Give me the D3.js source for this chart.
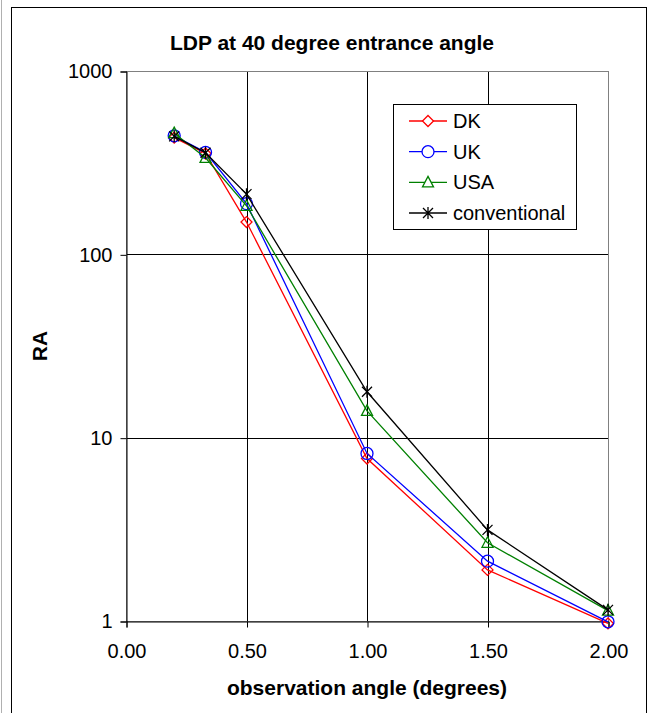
<!DOCTYPE html>
<html>
<head>
<meta charset="utf-8">
<script src="https://cdn.jsdelivr.net/npm/d3@7"></script>
<style>
  body { margin: 0; background: #fff; }
  svg { display: block; font-family: Arial, "Liberation Sans", sans-serif; }
</style>
</head>
<body>
<svg id="chart" width="658" height="713"></svg>
<script>
// observation angle (degrees)
let angles = [0.2, 0.33, 0.5, 1.0, 1.5, 2.0];

let dkValues = [433, 355, 150, 7.7, 1.9, 0.97];
let ukValues = [443, 360, 189, 8.2, 2.12, 0.99];
let usaValues = [458, 336, 184, 14.0, 2.67, 1.14];
let conventionalValues = [440, 358, 213, 17.8, 3.14, 1.15];

let seriesNames = ['DK', 'UK', 'USA', 'conventional'];
let xTicks = [0, 0.5, 1, 1.5, 2];
let yTicks = [1, 10, 100, 1000];

let series = [
	{name: seriesNames[0], values: dkValues, color: '#ff0000', marker: 'diamond'},
	{name: seriesNames[1], values: ukValues, color: '#0000ff', marker: 'circle'},
	{name: seriesNames[2], values: usaValues, color: '#008000', marker: 'triangle'},
	{name: seriesNames[3], values: conventionalValues, color: '#000000', marker: 'star'}
];

let svg = d3.select('#chart');

// outer chart frame
svg.append('line')
	.attr('x1', 1.5).attr('x2', 1.5).attr('y1', 0).attr('y2', 713)
	.attr('stroke', '#b0b0b0');
svg.append('rect')
	.attr('x', 11.5).attr('y', 7.5)
	.attr('width', 635).attr('height', 720)
	.attr('fill', 'none').attr('stroke', '#000');

let plot = {left: 126, right: 608, top: 71, bottom: 621};

let x = d3.scaleLinear()
	.domain([0, 2])
	.range([plot.left, plot.right]);

let y = d3.scaleLog()
	.domain([1, 1000])
	.range([plot.bottom, plot.top]);

// gridlines
let grid = svg.append('g');
grid.selectAll('.vgrid')
	.data(xTicks.slice(1, -1))
	.join('line')
	.attr('x1', d => Math.round(x(d)) + 0.5)
	.attr('x2', d => Math.round(x(d)) + 0.5)
	.attr('y1', plot.top).attr('y2', plot.bottom)
	.attr('stroke', '#000');
grid.selectAll('.hgrid')
	.data(yTicks.slice(1, -1))
	.join('line')
	.attr('x1', plot.left).attr('x2', plot.right)
	.attr('y1', d => Math.round(y(d)) + 0.5)
	.attr('y2', d => Math.round(y(d)) + 0.5)
	.attr('stroke', '#000');

// plot area border (grey)
svg.append('rect')
	.attr('x', plot.left + 0.5).attr('y', plot.top + 0.5)
	.attr('width', plot.right - plot.left).attr('height', plot.bottom - plot.top)
	.attr('fill', 'none').attr('stroke', '#808080');

// axes
let xAxis = d3.axisBottom(x)
	.tickValues(xTicks)
	.tickFormat(d3.format('.2f'))
	.tickSize(6)
	.tickPadding(16);

let yAxis = d3.axisLeft(y)
	.tickValues(yTicks)
	.tickFormat(d3.format('d'))
	.tickSize(6)
	.tickPadding(8);

let gx = svg.append('g')
	.attr('transform', `translate(0.5,${plot.bottom + 0.5})`)
	.call(xAxis);
let gy = svg.append('g')
	.attr('transform', `translate(${plot.left + 0.5},0.5)`)
	.call(yAxis);

[gx, gy].forEach(g => {
	g.selectAll('path, line').attr('stroke', '#000');
	g.selectAll('text')
		.attr('fill', '#000')
		.style('font-size', '20px')
		.style('font-family', 'Arial, "Liberation Sans", sans-serif');
});

// series
function markerPath(type) {
	if(type === 'diamond') return 'M0,-5.5L5.5,0L0,5.5L-5.5,0Z';
	if(type === 'circle') return d3.symbol(d3.symbolCircle, 113)();
	if(type === 'triangle') return 'M0,-6L5.5,4.5L-5.5,4.5Z';
	return 'M-5,-5L5,5M-5,5L5,-5M0,-6L0,6';
}

let line = d3.line()
	.x(d => x(d[0]))
	.y(d => y(d[1]));

series.forEach(s => {
	let pts = angles.map((a, i) => [a, s.values[i]]);
	svg.append('path')
		.datum(pts)
		.attr('d', line)
		.attr('fill', 'none')
		.attr('stroke', s.color)
		.attr('stroke-width', 1.3);
	svg.append('g')
		.selectAll('path')
		.data(pts)
		.join('path')
		.attr('transform', d => `translate(${x(d[0])},${y(d[1])})`)
		.attr('d', markerPath(s.marker))
		.attr('fill', 'none')
		.attr('stroke', s.color)
		.attr('stroke-width', 1.3);
});

// legend
let legend = svg.append('g');
legend.append('rect')
	.attr('x', 393.5).attr('y', 104.5)
	.attr('width', 183).attr('height', 125)
	.attr('fill', '#fff').attr('stroke', '#000');

let rowY = d3.scalePoint()
	.domain(seriesNames)
	.range([121, 213]);

series.forEach(s => {
	let ly = rowY(s.name);
	legend.append('line')
		.attr('x1', 409).attr('x2', 447)
		.attr('y1', ly).attr('y2', ly)
		.attr('stroke', s.color).attr('stroke-width', 1.3);
	legend.append('path')
		.attr('transform', `translate(428,${ly})`)
		.attr('d', markerPath(s.marker))
		.attr('fill', '#fff')
		.attr('stroke', s.color)
		.attr('stroke-width', 1.3);
	legend.append('text')
		.attr('x', 453).attr('y', ly)
		.attr('dy', '0.35em')
		.style('font-size', '20px')
		.text(s.name);
});

// titles
svg.append('text')
	.attr('x', 332).attr('y', 43)
	.attr('dy', '0.35em')
	.attr('text-anchor', 'middle')
	.style('font-size', '21px')
	.style('font-weight', 'bold')
	.text('LDP at 40 degree entrance angle');

svg.append('text')
	.attr('x', (plot.left + plot.right) / 2).attr('y', 688)
	.attr('dy', '0.35em')
	.attr('text-anchor', 'middle')
	.style('font-size', '21px')
	.style('font-weight', 'bold')
	.text('observation angle (degrees)');

svg.append('text')
	.attr('transform', `translate(40,${(plot.top + plot.bottom) / 2}) rotate(-90)`)
	.attr('dy', '0.35em')
	.attr('text-anchor', 'middle')
	.style('font-size', '21px')
	.style('font-weight', 'bold')
	.text('RA');
</script>
</body>
</html>
